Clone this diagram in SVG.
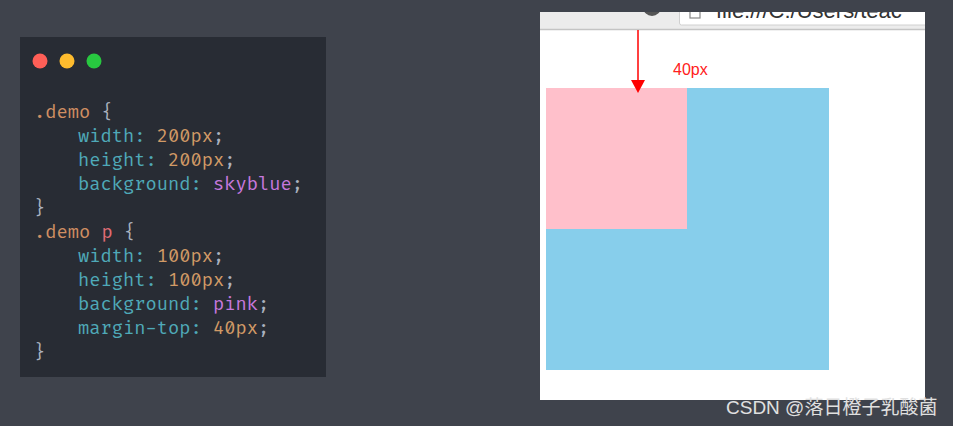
<svg xmlns="http://www.w3.org/2000/svg" width="953" height="426" viewBox="0 0 953 426">
<defs>
<style>
.code{font-family:"Fira Code","DejaVu Sans Mono","Liberation Mono",monospace;font-size:18.3px;}
.sel{fill:#cf8e62;}
.prop{fill:#4fa9b8;}
.num{fill:#d19a66;}
.kw{fill:#c678dd;}
.tag{fill:#e06c75;}
.pun{fill:#abb2bf;}
</style>
<clipPath id="barclip"><rect x="540" y="12" width="385" height="18"/></clipPath>
</defs>
<rect width="953" height="426" fill="#3f434c"/>
<g id="code-panel">
<rect x="20" y="37" width="306" height="340" fill="#282c34"/>
<circle cx="40" cy="61" r="7.5" fill="#ff5f57"/>
<circle cx="67" cy="61" r="7.5" fill="#febc2e"/>
<circle cx="94" cy="61" r="7.5" fill="#28c840"/>
<text class="code" x="34" y="118"><tspan class="sel">.demo</tspan><tspan class="pun"> {</tspan></text>
<text class="code" x="78" y="142"><tspan class="prop">width:</tspan><tspan class="num"> 200px</tspan><tspan class="pun">;</tspan></text>
<text class="code" x="78" y="166"><tspan class="prop">height:</tspan><tspan class="num"> 200px</tspan><tspan class="pun">;</tspan></text>
<text class="code" x="78" y="190"><tspan class="prop">background:</tspan><tspan class="kw"> skyblue</tspan><tspan class="pun">;</tspan></text>
<text class="code pun" x="34" y="214">}</text>
<text class="code" x="34" y="238"><tspan class="sel">.demo</tspan><tspan class="tag"> p</tspan><tspan class="pun"> {</tspan></text>
<text class="code" x="78" y="262"><tspan class="prop">width:</tspan><tspan class="num"> 100px</tspan><tspan class="pun">;</tspan></text>
<text class="code" x="78" y="286"><tspan class="prop">height:</tspan><tspan class="num"> 100px</tspan><tspan class="pun">;</tspan></text>
<text class="code" x="78" y="310"><tspan class="prop">background:</tspan><tspan class="kw"> pink</tspan><tspan class="pun">;</tspan></text>
<text class="code" x="78" y="334"><tspan class="prop">margin-top:</tspan><tspan class="num"> 40px</tspan><tspan class="pun">;</tspan></text>
<text class="code pun" x="34" y="358">}</text>
</g>
<g id="browser">
<rect x="540" y="12" width="385" height="388" fill="#ffffff"/>
<rect x="540" y="12" width="385" height="18" fill="#ececec"/>
<line x1="540" y1="29.5" x2="925" y2="29.5" stroke="#c4c4c4" stroke-width="1.5"/>
<g clip-path="url(#barclip)">
<circle cx="652" cy="7" r="9" fill="#555555"/>
<rect x="679.5" y="0" width="250" height="25" rx="2" fill="#ffffff" stroke="#d0d0d0"/>
<rect x="690" y="4" width="10" height="14" fill="none" stroke="#888888" stroke-width="1.2"/>
<text x="716" y="18" font-family="'Liberation Sans',Arial,sans-serif" font-size="22" fill="#333333">file:///C:/Users/teac</text>
</g>
<rect id="demo" x="546" y="88" width="283" height="282" fill="#87ceeb"/>
<rect id="p" x="546" y="88" width="141" height="141" fill="#ffc0cb"/>
</g>
<g id="connectors">
<line x1="638" y1="30" x2="638" y2="83" stroke="#ff0000" stroke-width="1.5"/>
<polygon points="631,80 645,80 638,93" fill="#ff0000"/>
</g>
<text x="673" y="75" font-family="'Liberation Sans',Arial,sans-serif" font-size="16" fill="#ff2020">40px</text>
<text x="726" y="414" font-family="'Liberation Sans',Arial,'Noto Sans CJK SC',sans-serif" font-size="19" fill="#e0e0e0">CSDN @落日橙子乳酸菌</text>
</svg>
